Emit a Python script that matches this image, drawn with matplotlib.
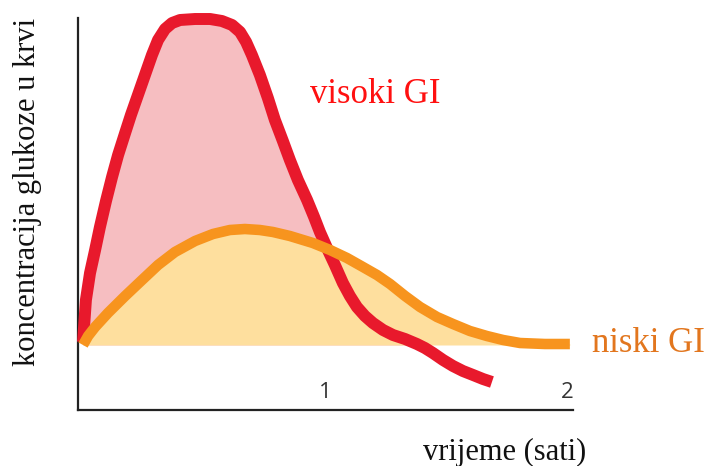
import numpy as np
import matplotlib
matplotlib.use("Agg")
import matplotlib.pyplot as plt

# ---- data (hours, relative glucose above baseline) ----
high_gi_t = [0.000, 0.012, 0.029, 0.050, 0.070, 0.095, 0.120, 0.145, 0.174, 0.198,
             0.227, 0.256, 0.285, 0.310, 0.339, 0.368, 0.401, 0.463, 0.525, 0.574,
             0.616, 0.649, 0.674, 0.698, 0.731, 0.764, 0.793, 0.826, 0.855, 0.888,
             0.926, 0.955, 0.979, 1.012, 1.041, 1.074, 1.103, 1.132, 1.165, 1.198,
             1.240, 1.281, 1.331, 1.380, 1.413, 1.446, 1.488, 1.529, 1.570, 1.612,
             1.653, 1.690]
high_gi_g = [0.03, 0.45, 0.72, 0.95, 1.18, 1.44, 1.68, 1.90, 2.12, 2.30,
             2.50, 2.70, 2.90, 3.05, 3.16, 3.22, 3.25, 3.26, 3.26, 3.24,
             3.20, 3.13, 3.03, 2.90, 2.70, 2.47, 2.25, 2.04, 1.85, 1.65,
             1.45, 1.28, 1.13, 0.95, 0.80, 0.62, 0.49, 0.38, 0.29, 0.22,
             0.15, 0.10, 0.06, 0.01, -0.03, -0.08, -0.15, -0.21, -0.26, -0.30,
             -0.34, -0.37]

low_gi_t = [0.000, 0.021, 0.050, 0.103, 0.174, 0.244, 0.310, 0.380, 0.463, 0.537,
            0.607, 0.669, 0.731, 0.785, 0.855, 0.950, 1.021, 1.091, 1.157, 1.215,
            1.269, 1.331, 1.393, 1.463, 1.529, 1.599, 1.669, 1.736, 1.806, 1.909,
            2.012]
low_gi_g = [0.00, 0.09, 0.18, 0.32, 0.49, 0.65, 0.80, 0.93, 1.04, 1.11,
            1.15, 1.16, 1.15, 1.13, 1.09, 1.02, 0.95, 0.87, 0.78, 0.70,
            0.61, 0.49, 0.38, 0.28, 0.21, 0.14, 0.09, 0.05, 0.02, 0.01,
            0.01]

tick_pos = [1, 2]
tick_labels = ["1", "2"]

high_label = "visoki GI"
low_label = "niski GI"
x_label = "vrijeme (sati)"
y_label = "koncentracija glukoze u krvi"

# ---- figure ----
W, H = 708, 466
fig = plt.figure(figsize=(W / 100, H / 100), dpi=100)
fig.patch.set_facecolor("white")

ax = fig.add_axes([78 / W, (H - 410) / H, (573 - 78) / W, 410 / H])
ax.set_xlim(-0.0207, 2.025)
ax.set_ylim(-0.65, 3.45)

ht = np.array(high_gi_t); hg = np.array(high_gi_g)
lt = np.array(low_gi_t); lg = np.array(low_gi_g)

ax.fill_between(ht, hg, 0, where=hg >= 0, interpolate=True,
                color="#F6BEC1", lw=0, zorder=1)
ax.fill_between(lt, lg, 0, color="#FEDF9E", lw=0, zorder=2)

ax.plot(ht, hg, color="#E8192C", lw=8.6, solid_capstyle="butt",
        solid_joinstyle="round", zorder=3, clip_on=False)
ax.plot(lt, lg, color="#F7941E", lw=7.6, solid_capstyle="butt",
        solid_joinstyle="round", zorder=4, clip_on=False)

for s in ["top", "right"]:
    ax.spines[s].set_visible(False)
for s in ["left", "bottom"]:
    ax.spines[s].set_color("#222222")
    ax.spines[s].set_linewidth(1.6)
ax.spines["left"].set_bounds(-0.65, 3.27)
ax.set_xticks([])
ax.set_yticks([])

for p, lab in zip(tick_pos, tick_labels):
    ax.text(p, -0.48, lab, ha="center", va="center", fontsize=16,
            family="Open Sans", color="#333333")

serif = "Liberation Serif"
fig.text(310 / W, 1 - 103 / H, high_label, ha="left", va="baseline",
         fontsize=25, family=serif, color="#FF1010")
fig.text(592 / W, 1 - 352 / H, low_label, ha="left", va="baseline",
         fontsize=25, family=serif, color="#E2761E")
fig.text(505 / W, 1 - 460 / H, x_label, ha="center", va="baseline",
         fontsize=22, family=serif, color="#111111")
fig.text(28 / W, 1 - 192 / H, y_label, ha="center", va="center",
         rotation=90, fontsize=22, family=serif, color="#111111")

fig.savefig("out.png", dpi=100, facecolor="white")
